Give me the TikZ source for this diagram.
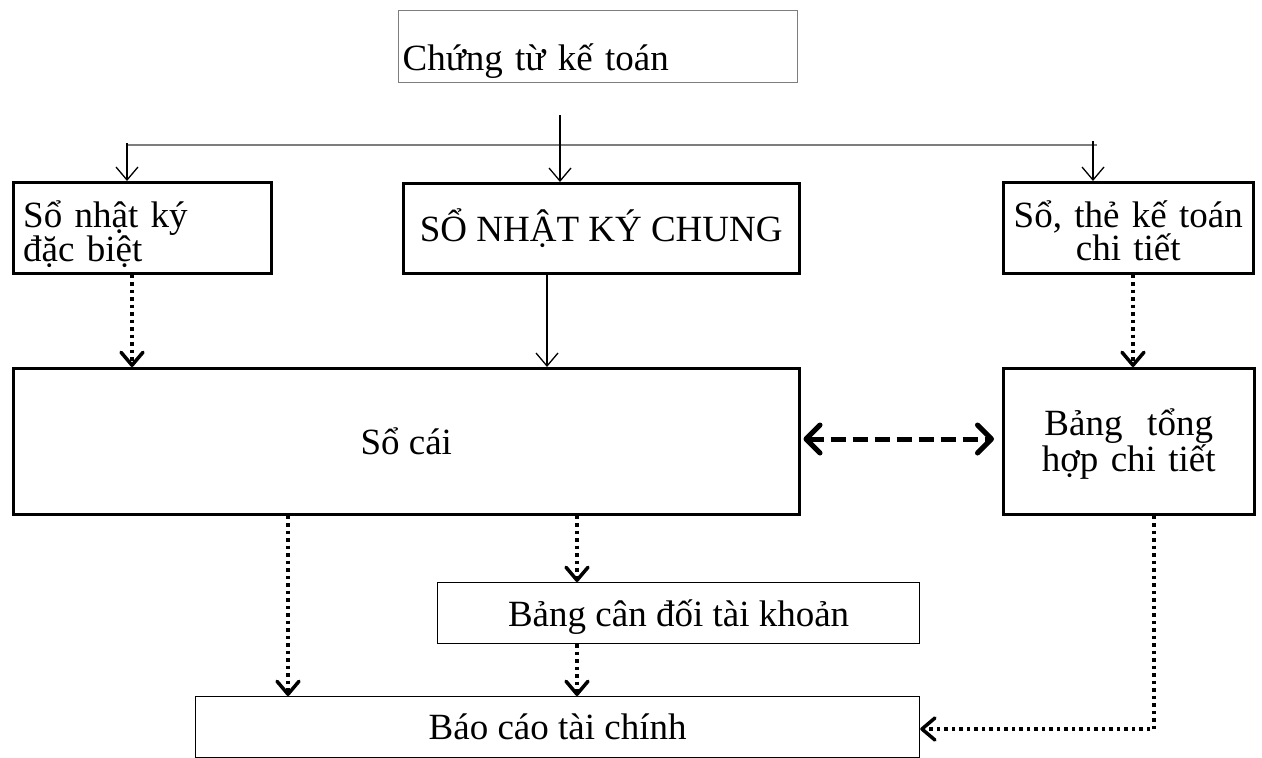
\documentclass[tikz,border=0pt]{standalone}
\usepackage{fontspec}
\setmainfont{Liberation Serif}
\usetikzlibrary{arrows.meta}
\definecolor{linegray}{RGB}{125,125,125}
\begin{document}
\begin{tikzpicture}[x=1pt,y=-1pt,
  thickbox/.style={draw=black, line width=2.5pt, inner sep=0pt, anchor=north west},
  thinbox/.style={draw=black, line width=1.2pt, inner sep=0pt, anchor=north west},
  graybox/.style={draw=linegray, line width=1.2pt, inner sep=0pt, anchor=north west},
  txt/.style={font=\fontsize{37}{33}\selectfont},
  oneline/.style={txt, text height=36pt, text depth=10pt},
  grayline/.style={draw=linegray, line width=1.2pt},
  solidarrow/.style={draw=black, line width=1.3pt, -{Straight Barb[length=13pt,width=22pt]}},
  dotarrow/.style={draw=black, line width=3.5pt, dash pattern=on 3.5pt off 4pt, -{Straight Barb[length=13pt,width=22pt,round]}},
  dasharrow/.style={draw=black, line width=5pt, dash pattern=on 15pt off 7pt, {Straight Barb[length=14pt,width=28pt,round]}-{Straight Barb[length=14pt,width=28pt,round]}}
]
\useasboundingbox (0,0) rectangle (1262,758);

% boxes
\node[graybox, txt, minimum width=399pt, minimum height=72pt, text width=391pt, inner xsep=4pt, align=left, text height=52pt, text depth=4pt] (ct) at (398,10) {Chứng từ kế toán};
\node[thickbox, txt, minimum width=258pt, minimum height=91pt, text width=238pt, inner xsep=10pt, align=left, text height=40pt, text depth=41pt] (nkdb) at (12,181) {Sổ nhật ký\\đặc biệt};
\node[thickbox, oneline, minimum width=396pt, minimum height=90pt] (nkc) at (402,182) {SỔ NHẬT KÝ CHUNG};
\node[thickbox, txt, minimum width=250pt, minimum height=91pt, text width=250pt, align=center, text height=40pt, text depth=41pt] (stkt) at (1002,181) {Sổ, thẻ kế toán\\chi tiết};
\node[thickbox, oneline, minimum width=786pt, minimum height=146pt] (sc) at (12,367) {Sổ cái};
\node[thickbox, font=\fontsize{37}{34}\selectfont, minimum width=251pt, minimum height=146pt, text width=251pt, align=center, text height=34pt, text depth=46pt] (bth) at (1002,367) {Bảng\ \ tổng\\hợp chi tiết};
\node[thinbox, oneline, minimum width=482pt, minimum height=61pt] (bcd) at (437,582) {Bảng cân đối tài khoản};
\node[thinbox, txt, text height=35pt, text depth=11pt, minimum width=724pt, minimum height=61pt] (bctc) at (195,696) {Báo cáo tài chính};

% helper coordinates
\coordinate (hl) at (127,145);
\coordinate (hr) at (1097,145);
\coordinate (ls) at (127,143);
\coordinate (rs) at (1093,141);
\coordinate (ms) at (560,115);
\coordinate (xl) at (132,0);
\coordinate (xr) at (1133,0);
\coordinate (xm) at (547,0);
\coordinate (xa) at (288,0);
\coordinate (xb) at (577,0);
\coordinate (corner) at (1154,729);
\coordinate (dy) at (0,439);

% top distribution
\draw[grayline] (hl) -- (hr);
\draw[solidarrow] (ms) -- (ms |- nkc.north);
\draw[solidarrow] (ls) -- (ls |- nkdb.north);
\draw[solidarrow] (rs) -- (rs |- stkt.north);

% to ledger
\draw[dotarrow] (nkdb.south -| xl) -- (sc.north -| xl);
\draw[solidarrow] (nkc.south -| xm) -- (sc.north -| xm);
\draw[dotarrow] (stkt.south -| xr) -- (bth.north -| xr);

% reconciliation
\draw[dasharrow, shorten <=3pt, shorten >=8pt] (sc.east |- dy) -- (bth.west |- dy);

% to reports
\draw[dotarrow] (sc.south -| xa) -- (bctc.north -| xa);
\draw[dotarrow] (sc.south -| xb) -- (bcd.north -| xb);
\draw[dotarrow] (bcd.south -| xb) -- (bctc.north -| xb);
\draw[dotarrow] (bth.south -| corner) -- (corner) -- (bctc.east |- corner);
\end{tikzpicture}
\end{document}
